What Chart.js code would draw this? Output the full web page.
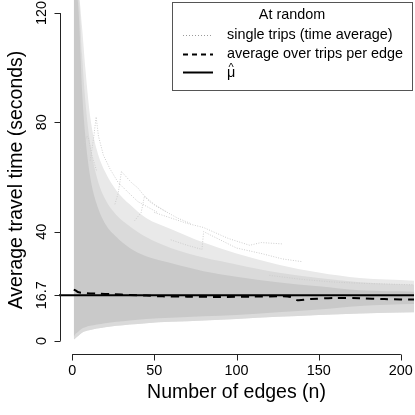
<!DOCTYPE html>
<html>
<head>
<meta charset="utf-8">
<script src="https://cdn.jsdelivr.net/npm/chart.js@4/dist/chart.umd.min.js"></script>
<style>
  html, body { margin: 0; padding: 0; background: #fff; }
  #wrap { width: 415px; height: 415px; }
</style>
</head>
<body>
<div id="wrap"><canvas id="chart"></canvas></div>
<script>
// 値は図から読み取り
const xTicks = [0, 50, 100, 150, 200];
const yTicks = [0, 16.7, 40, 80, 120];
const MU = 16.7;

// 灰色の帯（単一トリップの集まり）の上下端
const bandN   = [1, 2, 3, 4, 6, 8, 11, 15, 20, 27, 35, 45, 60, 80, 100, 125, 150, 175, 210];
const outerHi = [126, 126, 126, 126, 115, 100, 82, 70, 62, 55, 50, 45, 41, 36, 32, 28, 25, 23, 22];
const midHi   = [126, 126, 126, 126, 105, 88, 72, 60, 52, 46, 42, 38, 34, 30.5, 28, 25, 23, 21.5, 20.5];
const innerHi = [126, 126, 126, 120, 92, 75, 60, 50, 43, 38, 34, 31, 28.5, 25.5, 23.5, 21.5, 20, 18.5, 18];
const innerLo = [1.5, 2.5, 3, 3.5, 4.5, 5, 5.5, 6, 6.5, 7, 7.5, 8, 8.5, 9, 9.5, 10.5, 11.5, 12.8, 13.5];
const outerLo = [0.5, 1, 1.5, 2, 3, 3.5, 4, 4.5, 5, 5.5, 6, 6.5, 7, 7.5, 8, 8.8, 9.5, 10, 10.5];

// 目立つ単一トリップ
const trips = [
  { n: [11, 13, 14.6, 16, 19, 23, 28, 33, 40, 52], v: [66, 74, 82, 75, 68, 63, 58, 55, 51, 47] },
  { n: [5, 7, 9, 10, 12, 15], v: [70, 72, 75, 74, 68, 62] },
  { n: [26, 28, 30, 33, 36, 40, 44, 50, 58], v: [50, 54, 62, 60, 58, 56, 53, 50, 47] },
  { n: [38, 42, 44, 47, 52, 58, 64, 72], v: [44, 47, 53, 51, 49, 47, 45, 43] },
  { n: [50, 60, 70, 80, 95, 108, 115, 128], v: [47, 45, 43, 41.5, 37.5, 35, 36, 35.5] },
  { n: [60, 70, 79, 80, 90, 100, 115, 128, 140], v: [37, 35, 33.5, 40, 37, 34, 32, 30, 29] },
  { n: [120, 140, 160, 180, 210], v: [24, 22.5, 21.5, 21, 20.5] }
];

// エッジごとの平均
const avgN = [1, 2, 4, 8, 15, 25, 35, 45, 55, 70, 90, 110, 125, 133, 137, 145, 160, 175, 190, 210];
const avgV = [18.8, 18.5, 17.8, 17.5, 17.3, 17.1, 16.8, 16.6, 16.3, 16.2, 16.1, 16.2, 16.3, 16.1, 14.9, 15.3, 15.7, 15.6, 15.3, 15.1];

const FONT = '"Liberation Sans", Arial, Helvetica, sans-serif';

function pts(xs, ys) {
  return xs.map((x, i) => ({ x, y: ys[i] }));
}

const edge = { borderColor: 'rgba(0,0,0,0)', borderWidth: 0, cubicInterpolationMode: 'monotone' };

const datasets = [
  { data: [{ x: -8, y: MU }, { x: 208, y: MU }], borderColor: '#000', borderWidth: 2, order: 0 },
  { data: pts(avgN, avgV), borderColor: '#000', borderWidth: 2, borderDash: [8, 6], order: 1 },
  { ...edge, data: pts(bandN, outerHi), fill: false, order: 9 },
  { ...edge, data: pts(bandN, outerLo), fill: 2, backgroundColor: '#e9e9e9', order: 9 },
  { ...edge, data: pts(bandN, midHi), fill: false, order: 8 },
  { ...edge, data: pts(bandN, outerLo), fill: 4, backgroundColor: '#dadada', order: 8 },
  { ...edge, data: pts(bandN, innerHi), fill: false, order: 7 },
  { ...edge, data: pts(bandN, innerLo), fill: 6, backgroundColor: '#c9c9c9', order: 7 }
];
trips.forEach(t => {
  datasets.push({ data: pts(t.n, t.v), borderColor: '#cdcdcd', borderWidth: 1, borderDash: [1, 1.5], tension: 0, order: 5 });
});

// R風の軸と凡例を描く
const rAxes = {
  id: 'rAxes',
  afterDraw(chart) {
    const { ctx, chartArea: a, scales: { x, y } } = chart;
    ctx.save();
    ctx.strokeStyle = '#222';
    ctx.lineWidth = 1;
    ctx.fillStyle = '#000';

    // y軸
    const ax = a.left + 1.5;
    ctx.beginPath();
    ctx.moveTo(ax, y.getPixelForValue(yTicks[0]));
    ctx.lineTo(ax, y.getPixelForValue(yTicks[yTicks.length - 1]));
    yTicks.forEach(t => {
      const py = Math.round(y.getPixelForValue(t)) + 0.5;
      ctx.moveTo(ax, py);
      ctx.lineTo(ax - 6, py);
    });
    ctx.stroke();
    ctx.font = '14.4px ' + FONT;
    ctx.textAlign = 'center';
    ctx.textBaseline = 'middle';
    yTicks.forEach(t => {
      ctx.save();
      ctx.translate(42, y.getPixelForValue(t));
      ctx.rotate(-Math.PI / 2);
      ctx.fillText(String(t), 0, 0);
      ctx.restore();
    });

    // x軸
    const ay = a.bottom + 0.5;
    ctx.beginPath();
    ctx.moveTo(x.getPixelForValue(xTicks[0]), ay);
    ctx.lineTo(x.getPixelForValue(xTicks[xTicks.length - 1]), ay);
    xTicks.forEach(t => {
      const px = Math.round(x.getPixelForValue(t)) + 0.5;
      ctx.moveTo(px, ay);
      ctx.lineTo(px, ay + 6);
    });
    ctx.stroke();
    xTicks.forEach(t => ctx.fillText(String(t), x.getPixelForValue(t), 371));

    // 軸タイトル
    ctx.font = '19.5px ' + FONT;
    ctx.fillText('Number of edges (n)', (x.getPixelForValue(0) + x.getPixelForValue(200)) / 2, 393);
    ctx.save();
    ctx.translate(17, 180);
    ctx.rotate(-Math.PI / 2);
    ctx.fillText('Average travel time (seconds)', 0, 0);
    ctx.restore();

    // 凡例
    const bx = 172.5, by = 2.5, bw = 240, bh = 88;
    ctx.fillStyle = '#fff';
    ctx.fillRect(bx, by, bw, bh);
    ctx.strokeStyle = '#555';
    ctx.strokeRect(bx, by, bw, bh);
    ctx.fillStyle = '#000';
    ctx.font = '14.4px ' + FONT;
    ctx.textAlign = 'center';
    ctx.fillText('At random', 292, 15);
    ctx.textAlign = 'left';
    const rows = [
      { y: 35, ty: 35, text: 'single trips (time average)', color: '#9a9a9a', w: 1, dash: [1, 2] },
      { y: 54, ty: 54, text: 'average over trips per edge', color: '#000', w: 2, dash: [5, 4] },
      { y: 72, ty: 73, text: 'μ', color: '#000', w: 2, dash: [] }
    ];
    rows.forEach(r => {
      ctx.beginPath();
      ctx.strokeStyle = r.color;
      ctx.lineWidth = r.w;
      ctx.setLineDash(r.dash);
      ctx.moveTo(183, r.y + 0.5);
      ctx.lineTo(213, r.y + 0.5);
      ctx.stroke();
      ctx.fillText(r.text, 227, r.ty);
    });
    // μ の上のハット
    ctx.font = '11px ' + FONT;
    ctx.textAlign = 'center';
    ctx.fillText('^', 231, 68);
    ctx.restore();
  }
};

new Chart(document.getElementById('chart'), {
  type: 'line',
  data: { datasets },
  options: {
    responsive: true,
    maintainAspectRatio: false,
    animation: false,
    layout: { padding: { left: 59, right: 1, top: 0, bottom: 61 } },
    elements: { point: { radius: 0 }, line: { tension: 0.3 } },
    plugins: { legend: { display: false }, tooltip: { enabled: false } },
    scales: {
      x: { type: 'linear', min: -8, max: 208, display: false },
      y: { type: 'linear', min: -4.8, max: 124.8, display: false }
    }
  },
  plugins: [rAxes]
});
</script>
</body>
</html>
